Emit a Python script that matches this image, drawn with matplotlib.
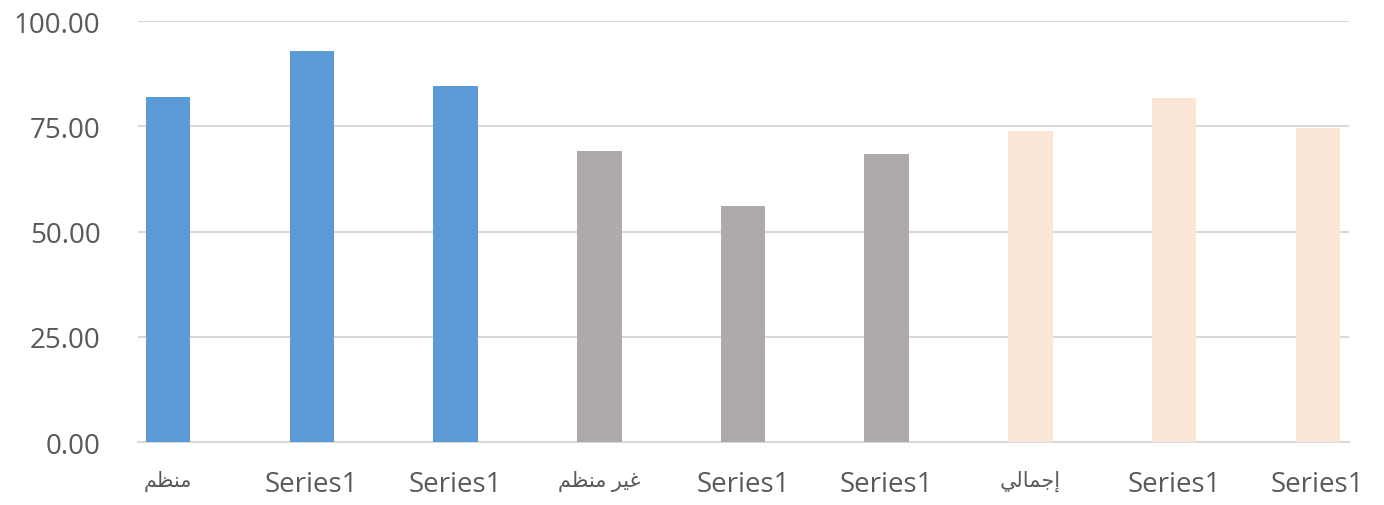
import matplotlib
matplotlib.use("Agg")
import matplotlib.pyplot as plt
from matplotlib.ticker import FormatStrFormatter

categories = ["منظم", "Series1", "Series1", "غير منظم", "Series1", "Series1",
              "إجمالي", "Series1", "Series1"]
values = [82.0, 92.9, 84.6, 69.2, 56.0, 68.4, 73.9, 81.6, 74.5]
bar_colors = ["#5B9BD5", "#5B9BD5", "#5B9BD5",
              "#AEAAAA", "#AEAAAA", "#AEAAAA",
              "#FBE5D6", "#FBE5D6", "#FBE5D6"]
yticks = [0, 25, 50, 75, 100]

# Minimal Arabic shaping (presentation forms) for the letters used
FORMS = {  # isolated, final, initial, medial ; dual-joining flag
    "م": ("\uFEE1", "\uFEE2", "\uFEE3", "\uFEE4", True),
    "ن": ("\uFEE5", "\uFEE6", "\uFEE7", "\uFEE8", True),
    "ظ": ("\uFEC5", "\uFEC6", "\uFEC7", "\uFEC8", True),
    "غ": ("\uFECD", "\uFECE", "\uFECF", "\uFED0", True),
    "ي": ("\uFEF1", "\uFEF2", "\uFEF3", "\uFEF4", True),
    "ج": ("\uFE9D", "\uFE9E", "\uFE9F", "\uFEA0", True),
    "ل": ("\uFEDD", "\uFEDE", "\uFEDF", "\uFEE0", True),
    "ر": ("\uFEAD", "\uFEAE", "\uFEAD", "\uFEAE", False),
    "ا": ("\uFE8D", "\uFE8E", "\uFE8D", "\uFE8E", False),
    "إ": ("\uFE87", "\uFE88", "\uFE87", "\uFE88", False),
}


def is_arabic(text):
    return any(c in FORMS for c in text)


def shape(text):
    if not is_arabic(text):
        return text
    out = []
    n = len(text)
    for i, c in enumerate(text):
        if c not in FORMS:
            out.append(c)
            continue
        prev = text[i - 1] if i > 0 else None
        nxt = text[i + 1] if i < n - 1 else None
        join_prev = prev in FORMS and FORMS[prev][4]
        join_next = nxt in FORMS and FORMS[c][4]
        iso, fin, ini, med, _ = FORMS[c]
        if join_prev and join_next:
            out.append(med)
        elif join_prev:
            out.append(fin)
        elif join_next:
            out.append(ini)
        else:
            out.append(iso)
    return "".join(reversed(out))


fig = plt.figure(figsize=(13.84, 5.06), dpi=100)
ax = fig.add_axes([0.0997, 0.1245, 0.8753, 0.832])

x = list(range(len(values)))
ax.bar(x, values, width=0.31, color=bar_colors, zorder=3)

ax.set_ylim(0, 100)
ax.set_xlim(-0.21, 8.22)
ax.set_yticks(yticks)
ax.yaxis.set_major_formatter(FormatStrFormatter("%.2f"))
ax.set_xticks(x)
ax.set_xticklabels([shape(c) for c in categories])

ax.grid(axis="y", color="#D9D9D9", linewidth=1.5, zorder=0)
for s in ["top", "right", "left"]:
    ax.spines[s].set_visible(False)
ax.spines["bottom"].set_color("#D9D9D9")
ax.spines["bottom"].set_linewidth(1.5)
ax.tick_params(axis="both", length=0, colors="#595959", labelsize=20)
ax.tick_params(axis="y", pad=27)
ax.tick_params(axis="x", pad=20)
for lab in ax.get_xticklabels() + ax.get_yticklabels():
    lab.set_family(["Open Sans", "DejaVu Sans"])
for lab, cat in zip(ax.get_xticklabels(), categories):
    if is_arabic(cat):
        lab.set_fontsize(15)

fig.savefig("out.png", dpi=100, facecolor="white")
